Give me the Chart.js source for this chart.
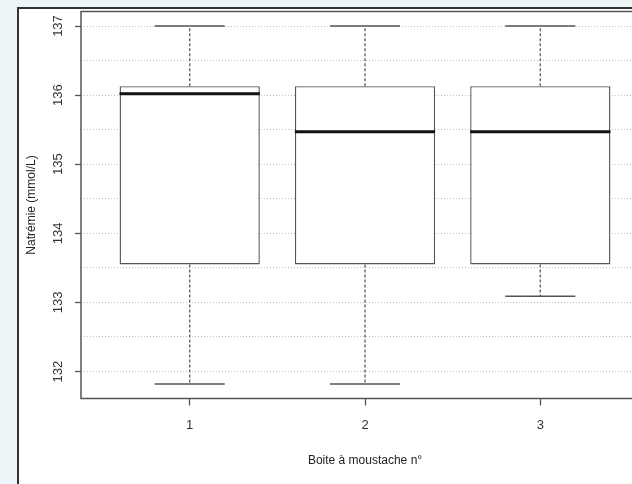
<!DOCTYPE html>
<html>
<head>
<meta charset="utf-8">
<script src="https://cdn.jsdelivr.net/npm/chart.js@4/dist/chart.umd.min.js"></script>
<style>
  html, body { margin: 0; padding: 0; }
  body { width: 632px; height: 484px; overflow: hidden; background: #edf5f9; position: relative; }
  #panel { position: absolute; left: 17px; top: 7px; width: 700px; height: 520px; background: #fff;
           border-left: 2px solid #333; border-top: 2px solid #333; }
  #wrap { position: absolute; left: 0; top: 0; width: 700px; height: 484px; }
</style>
</head>
<body>
<div id="panel"></div>
<div id="wrap"><canvas id="chart" width="700" height="484"></canvas></div>
<script>
// boîtes à moustache
const boxes = [1, 2, 3];
const mins = [131.82, 131.82, 133.09];
const q1s = [133.55, 133.55, 133.55];
const medians = [136.02, 135.47, 135.47];
const q3s = [136.13, 136.13, 136.13];
const maxs = [137, 137, 137];
const yTicks = [132, 133, 134, 135, 136, 137];

const BOX_HALF = 0.4;
const CAP_HALF = 0.2;

// segments des moustaches, des extrémités et des médianes
const whiskers = [];
const caps = [];
const medLines = [];
boxes.forEach((b, i) => {
  whiskers.push({x: b, y: q3s[i]}, {x: b, y: maxs[i]}, {x: b, y: null});
  whiskers.push({x: b, y: q1s[i]}, {x: b, y: mins[i]}, {x: b, y: null});
  caps.push({x: b - CAP_HALF, y: maxs[i]}, {x: b + CAP_HALF, y: maxs[i]}, {x: b, y: null});
  caps.push({x: b - CAP_HALF, y: mins[i]}, {x: b + CAP_HALF, y: mins[i]}, {x: b, y: null});
  medLines.push({x: b - BOX_HALF, y: medians[i]}, {x: b + BOX_HALF, y: medians[i]}, {x: b, y: null});
});

const rAxes = {
  id: "rAxes",
  afterDraw(chart) {
    const {ctx, chartArea: a, scales} = chart;
    ctx.save();
    // cadre du graphique
    ctx.strokeStyle = "#555";
    ctx.lineWidth = 1.5;
    ctx.strokeRect(a.left, a.top, a.right - a.left, a.bottom - a.top);
    // étiquettes de l'axe y, parallèles à l'axe
    ctx.fillStyle = "#333";
    ctx.font = "13px 'Liberation Sans', Arial, sans-serif";
    ctx.textAlign = "center";
    ctx.textBaseline = "middle";
    scales.y.ticks.forEach(t => {
      if (!yTicks.includes(t.value)) return;
      const py = scales.y.getPixelForValue(t.value);
      ctx.save();
      ctx.translate(58.5, py);
      ctx.rotate(-Math.PI / 2);
      ctx.fillText(String(t.value), 0, 0);
      ctx.restore();
    });
    ctx.restore();
  }
};

new Chart(document.getElementById("chart"), {
  type: "bar",
  data: {
    datasets: [
      {
        type: "line",
        data: whiskers,
        borderColor: "#666",
        borderWidth: 1.4,
        borderDash: [3, 2],
        pointRadius: 0,
        spanGaps: false,
        order: 4
      },
      {
        type: "bar",
        data: boxes.map((b, i) => ({x: b, y: [q1s[i], q3s[i]]})),
        backgroundColor: "#fff",
        borderColor: "#555",
        borderWidth: 1.4,
        borderSkipped: false,
        barPercentage: 0.8,
        categoryPercentage: 1,
        order: 3
      },
      {
        type: "line",
        data: caps,
        borderColor: "#555",
        borderWidth: 1.4,
        pointRadius: 0,
        spanGaps: false,
        order: 2
      },
      {
        type: "line",
        data: medLines,
        borderColor: "#111",
        borderWidth: 3,
        borderCapStyle: "butt",
        pointRadius: 0,
        spanGaps: false,
        order: 1
      }
    ]
  },
  options: {
    responsive: false,
    animation: false,
    layout: { padding: { left: 0, top: 11.5, right: 51, bottom: 0 } },
    plugins: { legend: { display: false }, tooltip: { enabled: false } },
    scales: {
      x: {
        type: "linear",
        min: 0.38,
        max: 3.62,
        offset: false,
        afterFit: s => { s.height = 85.5; },
        grid: { offset: false, drawOnChartArea: false, drawTicks: true, tickLength: 7, tickColor: "#555", tickWidth: 1.3 },
        border: { display: false },
        ticks: {
          stepSize: 1,
          includeBounds: false,
          padding: 12.5,
          color: "#333",
          font: { family: "'Liberation Sans', Arial, sans-serif", size: 13 },
          callback: v => (boxes.includes(v) ? String(v) : "")
        },
        title: {
          display: true,
          text: "Boite à moustache n°",
          color: "#222",
          font: { family: "'Liberation Sans', Arial, sans-serif", size: 12 },
          padding: { top: 4, bottom: 15.8 }
        }
      },
      y: {
        min: 131.61,
        max: 137.21,
        afterFit: s => { s.width = 81; },
        grid: {
          color: "#c0c0c0",
          lineWidth: 1,
          tickLength: 6,
          tickWidth: 1.3,
          tickColor: c => (yTicks.includes(c.tick.value) ? "#555" : "rgba(0,0,0,0)")
        },
        border: { display: false, dash: [1, 2] },
        ticks: { stepSize: 0.5, includeBounds: false, display: false },
        title: {
          display: true,
          text: "Natrémie (mmol/L)",
          color: "#222",
          font: { family: "'Liberation Sans', Arial, sans-serif", size: 12 },
          padding: { top: 24.5, bottom: 0 }
        }
      }
    }
  },
  plugins: [rAxes]
});
</script>
</body>
</html>
